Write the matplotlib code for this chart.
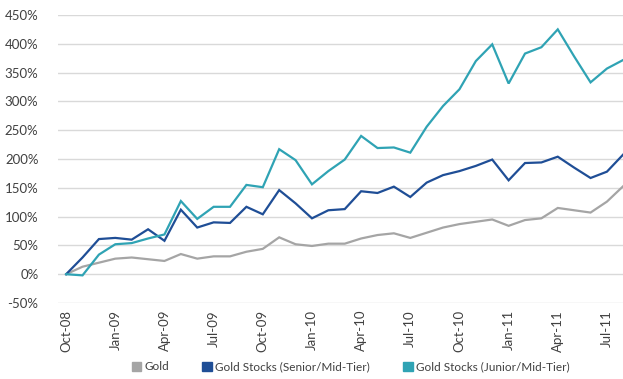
import matplotlib
matplotlib.use("Agg")
import matplotlib.pyplot as plt
from matplotlib.patches import Patch

# monthly, Oct-08 .. Aug-11
months = ["Oct-08", "Nov-08", "Dec-08", "Jan-09", "Feb-09", "Mar-09", "Apr-09", "May-09",
          "Jun-09", "Jul-09", "Aug-09", "Sep-09", "Oct-09", "Nov-09", "Dec-09", "Jan-10",
          "Feb-10", "Mar-10", "Apr-10", "May-10", "Jun-10", "Jul-10", "Aug-10", "Sep-10",
          "Oct-10", "Nov-10", "Dec-10", "Jan-11", "Feb-11", "Mar-11", "Apr-11", "May-11",
          "Jun-11", "Jul-11", "Aug-11"]

gold = [0, 13, 20, 27, 29, 26, 23, 35, 27, 31, 31, 39, 44, 64, 52, 49, 53, 53,
        62, 68, 71, 63, 72, 81, 87, 91, 95, 84, 94, 97, 115, 111, 107, 126, 153]
senior = [0, 29, 61, 63, 60, 78, 58, 112, 81, 90, 89, 117, 104, 146, 123, 97, 111, 113,
          144, 141, 152, 134, 159, 172, 179, 188, 199, 163, 193, 194, 204, 185, 167, 178, 208]
junior = [0, -2, 34, 52, 54, 62, 69, 127, 96, 117, 117, 155, 151, 217, 198, 156, 179, 199,
          240, 219, 220, 211, 256, 292, 321, 370, 399, 331, 383, 394, 425, 378, 333, 357, 372]

series_names = ["Gold", "Gold Stocks (Senior/Mid-Tier)", "Gold Stocks (Junior/Mid-Tier)"]
colors = ["#a5a5a5", "#1f4e96", "#2fa3b4"]

plt.rcParams['font.family'] = ['Lato', 'DejaVu Sans']

fig = plt.figure(figsize=(6.23, 3.79), dpi=100)
ax = fig.add_axes([0.093, 0.2005, 0.907, 0.76])

x = list(range(len(months)))
for vals, name, c in zip([gold, senior, junior], series_names, colors):
    ax.plot(x, vals, color=c, lw=1.6, label=name, solid_joinstyle="miter")

ax.set_ylim(-50, 450)
ax.set_yticks(range(-50, 451, 50))
ax.set_yticklabels([f"{v}%" for v in range(-50, 451, 50)])
ax.set_xlim(-0.5, 33.98)
ax.set_xticks(x[::3])
ax.set_xticklabels(months[::3], rotation=90)

ax.grid(axis="y", color="#d9d9d9", lw=1)
ax.set_axisbelow(True)
for s in ax.spines.values():
    s.set_visible(False)
ax.tick_params(length=0, labelsize=9.5, colors="#404040")
ax.tick_params(axis="y", pad=14)
ax.tick_params(axis="x", pad=5)

handles = [Patch(color=c) for c in colors]
fig.legend(handles, series_names, loc="center", bbox_to_anchor=(0.563, 0.032),
           ncol=3, frameon=False, fontsize=8.5, handlelength=0.8, handleheight=0.8,
           handletextpad=0.3, columnspacing=2.8, labelcolor="#404040")

fig.savefig("out.png", dpi=100)
